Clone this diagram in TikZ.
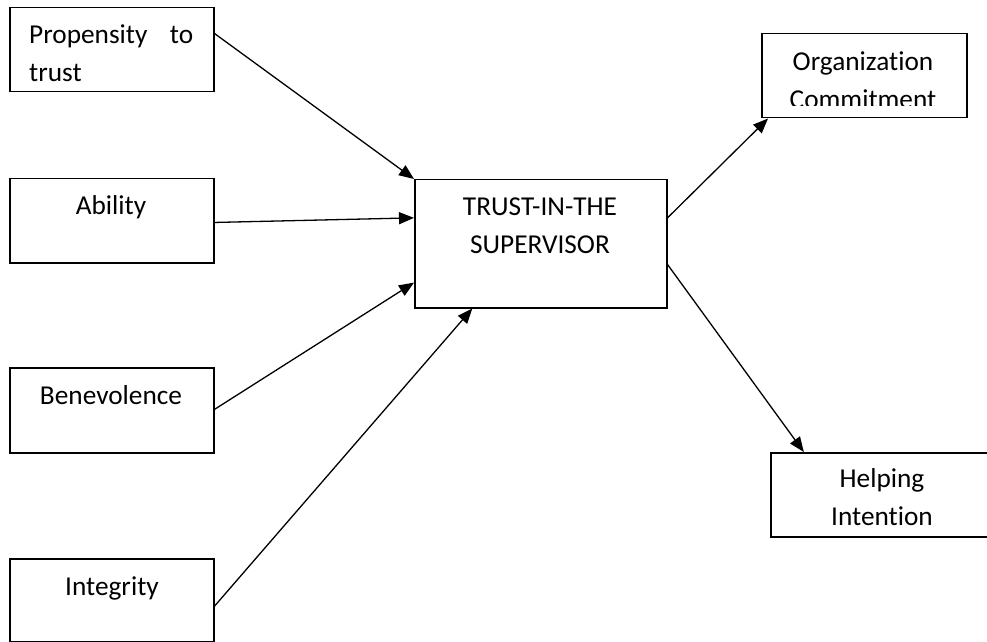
\documentclass[tikz,border=0pt]{standalone}
\usepackage{fontspec}
\setmainfont{Carlito}[Ligatures={NoCommon}]
\usetikzlibrary{arrows.meta,calc}
\begin{document}
\begin{tikzpicture}[x={(1bp,0bp)},y={(0bp,-1bp)},
  box/.style={draw, line width=1.5bp, inner sep=0pt, anchor=north west},
  lbl/.style={inner sep=0pt, font=\fontsize{27.3bp}{38.5bp}\selectfont},
  conn/.style={line width=1.3bp, -{Triangle[length=15bp,width=12bp]}}]
\useasboundingbox (0,0) rectangle (987,642);
\fill[white] (0,0) rectangle (987,642);
% boxes
\node[box, minimum width=204bp, minimum height=84bp] (P) at (9,7) {};
\node[box, minimum width=204bp, minimum height=84bp] (A) at (9,178) {};
\node[box, minimum width=204bp, minimum height=85bp] (B) at (9,367) {};
\node[box, minimum width=204bp, minimum height=83bp] (I) at (9,558) {};
\node[box, minimum width=252bp, minimum height=128bp] (T) at (414,179) {};
\node[box, minimum width=205bp, minimum height=84bp] (O) at (761,33) {};
\node[box, minimum width=224bp, minimum height=84bp] (H) at (770,452) {};
% texts
\node[lbl, text width=164bp, align=left, anchor=north west] (Pt) at (29,16) {\strut Propensity\hfill to\\\strut trust};
\node[lbl, anchor=base] (At) at (111,215) {Ability};
\node[lbl, anchor=base] (Bt) at (111,404) {Benevolence};
\node[lbl, anchor=base] (It) at (112,595) {Integrity};
\node[lbl, align=center, anchor=north] (Tt) at (540,188) {\strut TRUST-IN-THE\\\strut SUPERVISOR};
\begin{scope}
\clip (761,33) rectangle (966,106);
\node[lbl, align=center, anchor=north] (Ot) at (863,43) {\strut Organization\\\strut Commitment};
\end{scope}
\node[lbl, align=center, anchor=north] (Ht) at (882,460) {\strut Helping\\\strut Intention};
% connectors
\draw[conn] ($(P.north east)!0.31!(P.south east)$) -- (T.north west);
\draw[conn] ($(A.north east)!0.52!(A.south east)$) -- ($(T.north west)!0.30!(T.south west)$);
\draw[conn] ($(B.north east)!0.49!(B.south east)$) -- ($(T.north west)!0.80!(T.south west)$);
\draw[conn] ($(I.north east)!0.57!(I.south east)$) -- ($(T.south west)!0.23!(T.south east)$);
\draw[conn] ($(T.north east)!0.30!(T.south east)$) -- ($(O.south west)!0.034!(O.south east)$);
\draw[conn] ($(T.north east)!0.66!(T.south east)$) -- ($(H.north west)!0.15!(H.north east)$);
\end{tikzpicture}
\end{document}
